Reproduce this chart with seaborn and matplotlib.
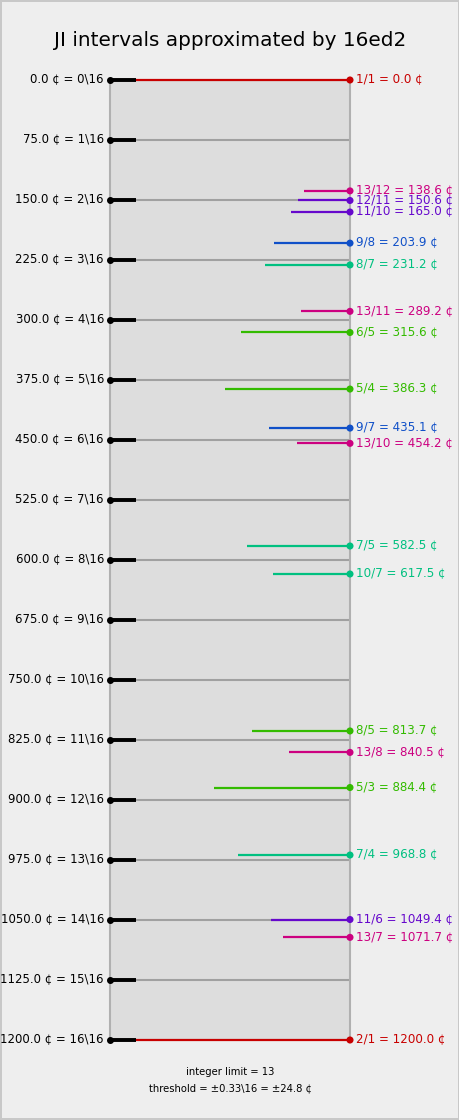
import numpy as np
import pandas as pd
import matplotlib
matplotlib.use('Agg')
import matplotlib.pyplot as plt
import matplotlib.transforms as mtransforms
import seaborn as sns

# 数据
edo = 16
step_idx = list(range(0, 17))
step_cents = [0.0, 75.0, 150.0, 225.0, 300.0, 375.0, 450.0, 525.0, 600.0,
              675.0, 750.0, 825.0, 900.0, 975.0, 1050.0, 1125.0, 1200.0]

ratios = ['1/1', '13/12', '12/11', '11/10', '9/8', '8/7', '13/11', '6/5', '5/4', '9/7',
          '13/10', '7/5', '10/7', '8/5', '13/8', '5/3', '7/4', '11/6', '13/7', '2/1']
ratio_cents = [0.0, 138.6, 150.6, 165.0, 203.9, 231.2, 289.2, 315.6, 386.3, 435.1,
               454.2, 582.5, 617.5, 813.7, 840.5, 884.4, 968.8, 1049.4, 1071.7, 1200.0]
odd_limit = [1, 13, 11, 11, 9, 7, 13, 5, 5, 9, 13, 7, 7, 5, 13, 5, 7, 11, 13, 1]
# 线长（占宽度比例）
weight = [1.0, 0.19, 0.218, 0.246, 0.315, 0.354, 0.204, 0.454, 0.521, 0.336,
          0.22, 0.43, 0.32, 0.407, 0.255, 0.565, 0.465, 0.329, 0.278, 1.0]

limit_colors = {1: '#c80000', 5: '#33bb00', 7: '#00c080', 9: '#1050c8',
                11: '#6608cc', 13: '#cc0080'}

df = pd.DataFrame({'ratio': ratios, 'cents': ratio_cents, 'limit': odd_limit, 'w': weight})
df['x'] = 1.0

sns.set_style('white', {'axes.facecolor': '#dddddd', 'figure.facecolor': '#eeeeee',
                        'text.color': 'black', 'ytick.color': 'black'})
plt.rcParams['font.family'] = ['DejaVu Sans']

fig = plt.figure(figsize=(4.6, 11.2), dpi=100)
fig.patch.set_edgecolor('#c8c8c8')
fig.patch.set_linewidth(1.5)
ax = fig.add_axes([110 / 460, 1 - 1040 / 1120, 240 / 460, 960 / 1120])
ax.set_xlim(0, 1)
ax.set_ylim(1200, 0)

# 各步灰线与黑色刻度
ax.hlines(step_cents, 0, 1, color='#a0a0a0', lw=1.5, zorder=1)
ax.hlines(step_cents, 0, 0.108, color='black', lw=2.8, zorder=4, clip_on=False)
ax.scatter([0] * len(step_cents), step_cents, color='black', s=16, zorder=5, clip_on=False)

# JI 音程线
for _, r in df.iterrows():
    c = limit_colors[r['limit']]
    ax.hlines(r['cents'], 1 - r['w'], 1, color=c, lw=1.6, zorder=3, clip_on=False)
sns.scatterplot(data=df, x='x', y='cents', hue='limit', palette=limit_colors,
                s=26, edgecolor='none', legend=False, zorder=6, clip_on=False, ax=ax)

trans = mtransforms.blended_transform_factory(ax.transAxes, ax.transData)
trans = mtransforms.offset_copy(trans, fig=fig, x=0, y=1.2, units='dots')
for _, r in df.iterrows():
    ax.text(1.025, r['cents'], f"{r['ratio']} = {r['cents']:.1f} ¢", transform=trans,
            color=limit_colors[r['limit']], fontsize=8.6, va='center', ha='left')

# 左侧标签
for i, c in zip(step_idx, step_cents):
    ax.text(-0.025, c, f'{c:.1f} ¢ = {i}\\{edo}', transform=trans, fontsize=8.5,
            va='center', ha='right', color='black')
ax.set_yticks([])
ax.set_xticks([])
ax.set_xlabel('')
ax.set_ylabel('')
for s in ['top', 'bottom']:
    ax.spines[s].set_visible(False)
for s in ['left', 'right']:
    ax.spines[s].set_color('#b0b0b0')
    ax.spines[s].set_linewidth(1.5)

fig.text(0.5, 1 - 41 / 1120, 'JI intervals approximated by 16ed2', ha='center', va='center',
         fontsize=14.4, color='black')
fig.text(0.5, 1 - 1072 / 1120, 'integer limit = 13', ha='center', va='center', fontsize=7.2, color='black')
fig.text(0.5, 1 - 1088 / 1120, 'threshold = ±0.33\\16 = ±24.8 ¢', ha='center', va='center',
         fontsize=7.2, color='black')

fig.savefig('out.png', dpi=100, facecolor=fig.get_facecolor(), edgecolor=fig.get_edgecolor())
